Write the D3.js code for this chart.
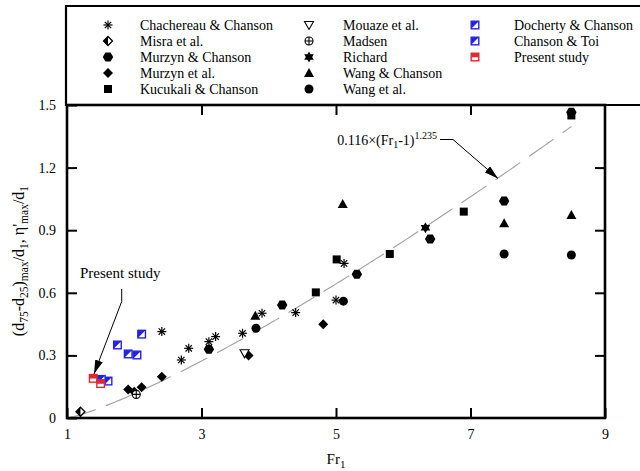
<!DOCTYPE html>
<html>
<head>
<meta charset="utf-8">
<script src="https://cdn.jsdelivr.net/npm/d3@7"></script>
<style>
  body { margin: 0; background: #fff; }
  text { font-family: "Liberation Serif", "Times New Roman", serif; fill: #000; }
</style>
</head>
<body>
<div id="chart"></div>
<script>
// data: Fr1 and (d75-d25)max/d1
var chachereauFr = [2.41, 2.70, 2.81, 3.11, 3.21, 3.61, 3.90, 4.40, 5.00, 5.12];
var chachereauV  = [0.414, 0.278, 0.334, 0.366, 0.39, 0.406, 0.502, 0.505, 0.565, 0.741];
var misraFr = [1.20];
var misraV  = [0.03];
var murzynChansonFr = [3.11, 4.20, 5.31, 6.40, 7.50, 8.50];
var murzynChansonV  = [0.33, 0.541, 0.689, 0.858, 1.04, 1.465];
var murzynFr = [1.91, 2.00, 2.11, 2.41, 3.70, 4.81];
var murzynV  = [0.137, 0.126, 0.147, 0.198, 0.30, 0.449];
var kucukaliFr = [4.70, 5.01, 5.80, 6.90, 8.50];
var kucukaliV  = [0.602, 0.76, 0.786, 0.989, 1.45];
var mouazeFr = [3.64];
var mouazeV  = [0.31];
var madsenFr = [2.03];
var madsenV  = [0.113];
var richardFr = [6.33];
var richardV  = [0.912];
var wangChansonFr = [3.80, 5.10, 7.50, 8.50];
var wangChansonV  = [0.49, 1.025, 0.933, 0.973];
var wangFr = [3.81, 5.11, 7.50, 8.50];
var wangV  = [0.43, 0.56, 0.786, 0.781];
var dochertyFr = [1.61, 1.75, 2.11];
var dochertyV  = [0.177, 0.35, 0.402];
var chansonToiFr = [1.51, 1.91, 2.04];
var chansonToiV  = [0.185, 0.307, 0.302];
var presentFr = [1.39, 1.50];
var presentV  = [0.19, 0.165];

// fitted curve 0.116*(Fr1-1)^1.235
var fitA = 0.116, fitB = 1.235, fitEnd = 8.5;

var xTicks = [1, 3, 5, 7, 9];
var yTicks = [0, 0.3, 0.6, 0.9, 1.2, 1.5];

var W = 640, H = 471;
var plotL = 67, plotR = 605, plotT = 105, plotB = 418;
var red = "#e0282c", blue = "#2323e6";

var svg = d3.select("#chart").append("svg")
    .attr("width", W).attr("height", H);

var x = d3.scaleLinear().domain([1, 9]).range([plotL, plotR]);
var y = d3.scaleLinear().domain([0, 1.5]).range([plotB, plotT]);

// marker painters
function asterisk(g) {
  [0, 45, 90, 135].forEach(function(a) {
    var r = 4.5, c = Math.cos(a * Math.PI / 180) * r, s = Math.sin(a * Math.PI / 180) * r;
    g.append("line").attr("x1", -c).attr("y1", -s).attr("x2", c).attr("y2", s)
      .attr("stroke", "#000").attr("stroke-width", 1.2);
  });
}
function halfDiamond(g) {
  g.append("path").attr("d", "M0,-4.5L4.5,0L0,4.5L-4.5,0Z").attr("fill", "#fff").attr("stroke", "#000").attr("stroke-width", 1.3);
  g.append("path").attr("d", "M0,-4.5L0,4.5L-4.5,0Z").attr("fill", "#000");
}
function hexagon(g) {
  var pts = d3.range(6).map(function(i) { var a = Math.PI / 3 * i; return [5.2 * Math.cos(a), 5.2 * Math.sin(a)]; });
  g.append("path").attr("d", "M" + pts.join("L") + "Z").attr("fill", "#000");
}
function diamond(g) {
  g.append("path").attr("d", "M0,-5L5,0L0,5L-5,0Z").attr("fill", "#000");
}
function square(g) {
  g.append("rect").attr("x", -4).attr("y", -4).attr("width", 8).attr("height", 8).attr("fill", "#000");
}
function invTriangle(g) {
  g.append("path").attr("d", "M-4.5,-3.5L4.5,-3.5L0,4.5Z").attr("fill", "#fff").attr("stroke", "#000").attr("stroke-width", 1.1);
}
function oplus(g) {
  g.append("circle").attr("r", 4).attr("fill", "#fff").attr("stroke", "#000").attr("stroke-width", 1.1);
  g.append("path").attr("d", "M-4,0L4,0M0,-4L0,4").attr("stroke", "#000").attr("stroke-width", 1.1);
}
function star6(g) {
  g.append("path").attr("d", "M0,-5.5L4.8,2.75L-4.8,2.75Z M0,5.5L-4.8,-2.75L4.8,-2.75Z").attr("fill", "#000");
}
function triangle(g) {
  g.append("path").attr("d", "M0,-5L5,4L-5,4Z").attr("fill", "#000");
}
function circle(g) {
  g.append("circle").attr("r", 4.5).attr("fill", "#000");
}
function blueHalf(g) {
  g.append("rect").attr("x", -3.8).attr("y", -3.8).attr("width", 7.6).attr("height", 7.6)
    .attr("fill", "#fff").attr("stroke", blue).attr("stroke-width", 1.4);
  g.append("path").attr("d", "M-3.8,-3.8L3.8,-3.8L-3.8,3.8Z").attr("fill", blue);
}
function redHalf(g) {
  g.append("rect").attr("x", -3.8).attr("y", -3.8).attr("width", 7.6).attr("height", 7.6)
    .attr("fill", "#fff").attr("stroke", red).attr("stroke-width", 1.4);
  g.append("rect").attr("x", -3.8).attr("y", -3.8).attr("width", 7.6).attr("height", 4).attr("fill", red);
}

var series = [
  {name: "Chachereau & Chanson", fr: chachereauFr, v: chachereauV, mk: asterisk},
  {name: "Misra et al.", fr: misraFr, v: misraV, mk: halfDiamond},
  {name: "Murzyn & Chanson", fr: murzynChansonFr, v: murzynChansonV, mk: hexagon},
  {name: "Murzyn et al.", fr: murzynFr, v: murzynV, mk: diamond},
  {name: "Kucukali & Chanson", fr: kucukaliFr, v: kucukaliV, mk: square},
  {name: "Mouaze et al.", fr: mouazeFr, v: mouazeV, mk: invTriangle},
  {name: "Madsen", fr: madsenFr, v: madsenV, mk: oplus},
  {name: "Richard", fr: richardFr, v: richardV, mk: star6},
  {name: "Wang & Chanson", fr: wangChansonFr, v: wangChansonV, mk: triangle},
  {name: "Wang et al.", fr: wangFr, v: wangV, mk: circle},
  {name: "Docherty & Chanson", fr: dochertyFr, v: dochertyV, mk: blueHalf},
  {name: "Chanson & Toi", fr: chansonToiFr, v: chansonToiV, mk: blueHalf},
  {name: "Present study", fr: presentFr, v: presentV, mk: redHalf}
];

// fit curve
var fitPts = d3.range(1, fitEnd + 0.001, 0.05).map(function(f) { return [f, fitA * Math.pow(f - 1, fitB)]; });
svg.append("path")
    .attr("d", d3.line().x(function(d) { return x(d[0]); }).y(function(d) { return y(d[1]); })(fitPts))
    .attr("fill", "none").attr("stroke", "#a0a0a0").attr("stroke-width", 1.1)
    .attr("stroke-dasharray", "30,11");

// points
series.forEach(function(s) {
  s.fr.forEach(function(f, i) {
    var g = svg.append("g").attr("transform", "translate(" + x(f) + "," + y(s.v[i]) + ")");
    s.mk(g);
  });
});

// axes with inward ticks
var fmt = function(d) { return d === 0 ? "0" : d3.format(".1f")(d); };
var xAxis = svg.append("g").attr("transform", "translate(0," + plotB + ")")
    .call(d3.axisBottom(x).tickValues(xTicks).tickSizeInner(-10).tickSizeOuter(0).tickPadding(11));
var xTop = svg.append("g").attr("transform", "translate(0," + plotT + ")")
    .call(d3.axisTop(x).tickValues([3, 5, 7]).tickSizeInner(-10).tickSizeOuter(0).tickFormat(""));
var yAxis = svg.append("g").attr("transform", "translate(" + plotL + ",0)")
    .call(d3.axisLeft(y).tickValues(yTicks).tickFormat(fmt).tickSizeInner(-10).tickSizeOuter(0).tickPadding(11));
var yRight = svg.append("g").attr("transform", "translate(" + plotR + ",0)")
    .call(d3.axisRight(y).tickValues([0.3, 0.6, 0.9, 1.2]).tickSizeInner(-10).tickSizeOuter(0).tickFormat(""));
[xAxis, xTop, yAxis, yRight].forEach(function(a) {
  a.select(".domain").remove();
  a.selectAll("line").attr("stroke", "#000").attr("stroke-width", 2);
  a.selectAll("text").style("font-family", "Liberation Serif").style("font-size", "14px").attr("fill", "#000");
});

// frame and legend box
svg.append("rect").attr("x", plotL).attr("y", plotT).attr("width", plotR - plotL).attr("height", plotB - plotT)
    .attr("fill", "none").attr("stroke", "#000").attr("stroke-width", 2.6);
svg.append("path").attr("d", "M" + (W + 5) + ",6H66V" + plotT + "H" + (W + 5))
    .attr("fill", "none").attr("stroke", "#000").attr("stroke-width", 2.2);

// legend
var legCols = [[108, 140], [309, 343], [475, 514]];
var legRows = [25, 41, 57, 73, 89];
var colOf = [0, 0, 0, 0, 0, 1, 1, 1, 1, 1, 2, 2, 2];
var rowOf = [0, 1, 2, 3, 4, 0, 1, 2, 3, 4, 0, 1, 2];
series.forEach(function(s, i) {
  var c = legCols[colOf[i]], r = legRows[rowOf[i]];
  s.mk(svg.append("g").attr("transform", "translate(" + c[0] + "," + r + ")"));
  svg.append("text").attr("x", c[1]).attr("y", r + 5).style("font-size", "14px").text(s.name);
});

// arrowheads
svg.append("defs").append("marker")
    .attr("id", "ah").attr("viewBox", "0 0 14 8").attr("refX", 14).attr("refY", 4)
    .attr("markerWidth", 14).attr("markerHeight", 8).attr("markerUnits", "userSpaceOnUse")
    .attr("orient", "auto")
  .append("path").attr("d", "M0,0L14,4L0,8Z").attr("fill", "#000");

// fit annotation
var fitLabel = svg.append("text").attr("x", 437).attr("y", 145).attr("text-anchor", "end").style("font-size", "14px");
fitLabel.append("tspan").text("0.116×(Fr");
fitLabel.append("tspan").attr("dy", 3).style("font-size", "10px").text("1");
fitLabel.append("tspan").attr("dy", -3).text("-1)");
fitLabel.append("tspan").attr("dy", -6).style("font-size", "10px").text("1.235");
svg.append("path").attr("d", "M440,139.5L453,139.5L498,178.5")
    .attr("fill", "none").attr("stroke", "#000").attr("stroke-width", 1).attr("marker-end", "url(#ah)");

// present study annotation
svg.append("text").attr("x", 80).attr("y", 278).style("font-size", "15px").text("Present study");
svg.append("path").attr("d", "M121.7,289L121.7,301.5L94,374")
    .attr("fill", "none").attr("stroke", "#000").attr("stroke-width", 1).attr("marker-end", "url(#ah)");

// axis titles
var yt = svg.append("text").attr("transform", "translate(24,261) rotate(-90)")
    .attr("text-anchor", "middle").style("font-size", "16px");
[["(d", 0], ["75", 1], ["-d", 0], ["25", 1], [")", 0], ["max", 1], ["/d", 0], ["1", 1],
 [", η'", 0], ["max", 1], ["/d", 0], ["1", 1]].forEach(function(p, i, arr) {
  var prevSub = i > 0 ? arr[i - 1][1] : 0;
  var ts = yt.append("tspan").text(p[0]);
  if (p[1] && !prevSub) ts.attr("dy", 4).style("font-size", "11.5px");
  else if (!p[1] && prevSub) ts.attr("dy", -4);
  else if (p[1]) ts.style("font-size", "11.5px");
});
var xt = svg.append("text").attr("x", (plotL + plotR) / 2).attr("y", 464).attr("text-anchor", "middle").style("font-size", "15px");
xt.append("tspan").text("Fr");
xt.append("tspan").attr("dy", 4).style("font-size", "11px").text("1");
</script>
</body>
</html>
